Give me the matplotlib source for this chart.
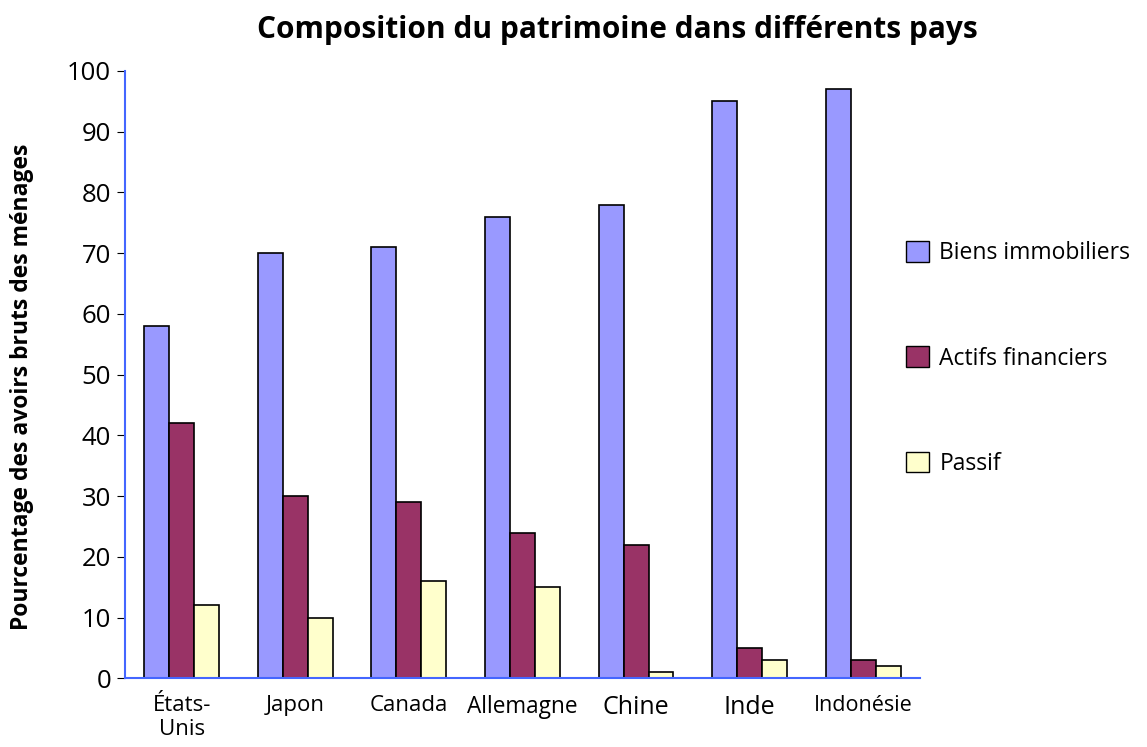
import numpy as np
import matplotlib.pyplot as plt
from matplotlib.patches import Patch

plt.rcParams['font.family'] = ['Open Sans', 'DejaVu Sans']

# Data
pays = ["États-\nUnis", "Japon", "Canada", "Allemagne", "Chine", "Inde", "Indonésie"]
biens_immobiliers = [58, 70, 71, 76, 78, 95, 97]
actifs_financiers = [42, 30, 29, 24, 22, 5, 3]
passif = [12, 10, 16, 15, 1, 3, 2]
series_noms = ["Biens immobiliers", "Actifs financiers", "Passif"]
couleurs = ["#9999ff", "#993366", "#ffffcc"]

fig = plt.figure(figsize=(11.47, 7.47), dpi=100)
ax = fig.add_axes([0.109, 0.092, 0.693, 0.813])

x = np.arange(len(pays))
w = 0.22
for i, vals in enumerate([biens_immobiliers, actifs_financiers, passif]):
    ax.bar(x + (i - 1) * w, vals, width=w, color=couleurs[i],
           edgecolor="black", linewidth=1.2, label=series_noms[i])

ax.set_xlim(-0.5, len(pays) - 0.5)
ax.set_ylim(0, 100)
ax.set_yticks(range(0, 101, 10))
ax.tick_params(axis="y", labelsize=18.5, direction="out", length=6, color="black", pad=4)

ax.set_xticks(x)
ax.set_xticklabels(pays)
ax.tick_params(axis="x", length=0, pad=12)
tailles = [16, 16, 16, 16.3, 18, 18, 15.5]
for lab, t in zip(ax.get_xticklabels(), tailles):
    lab.set_fontsize(t)

for s in ["top", "right"]:
    ax.spines[s].set_visible(False)
for s in ["left", "bottom"]:
    ax.spines[s].set_color("#4466ff")
    ax.spines[s].set_linewidth(1.5)

ax.set_ylabel("Pourcentage des avoirs bruts des ménages", fontsize=16.5,
              fontweight="bold")
ax.yaxis.set_label_coords(-0.114, 0.48)
fig.suptitle("Composition du patrimoine dans différents pays", fontsize=21.5,
             fontweight="bold", x=0.538, y=0.98)

handles = [Patch(facecolor=c, edgecolor="black") for c in couleurs]
fig.legend(handles, series_noms, loc="upper left", bbox_to_anchor=(0.772, 0.705),
           frameon=False, fontsize=16.5, labelspacing=3.55, handlelength=1.0,
           handleheight=1.0, handletextpad=0.45)

fig.savefig("out.png", dpi=100)
